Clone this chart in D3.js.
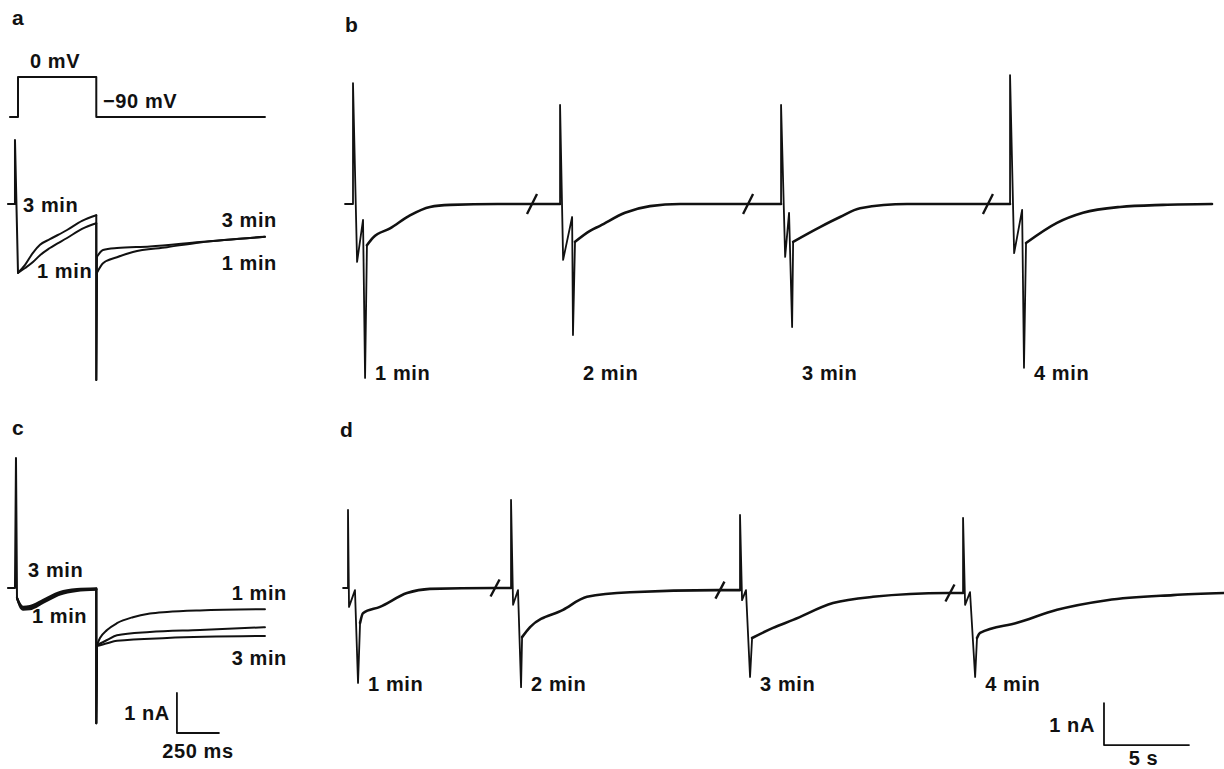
<!DOCTYPE html>
<html>
<head>
<meta charset="utf-8">
<script src="https://cdn.jsdelivr.net/npm/d3@7"></script>
<style>
  body { margin: 0; background: #fff; }
  svg { display: block; }
  text { font-family: "Liberation Sans", Arial, sans-serif; font-weight: bold; fill: #111; }
</style>
</head>
<body>
<svg id="fig" width="1224" height="769"></svg>
<script>
// ---- data ----
// panel a: command voltage (ms, mV)
const aVolt = [[-48, -90], [0, -90], [0, 0], [466, 0], [466, -90], [1470, -90]];

// panel a: currents (ms, nA)
const aCap = [[-60, 0], [-18, 0], [-18, 1.6], [0, -1.72]];
const aPulse3 = [[0, -1.72], [42, -1.52], [89, -1.22], [131, -1.02], [190, -0.88], [292, -0.65], [381, -0.42], [466, -0.28]];
const aPulse1 = [[0, -1.72], [42, -1.6], [89, -1.45], [131, -1.28], [190, -1.1], [292, -0.85], [381, -0.62], [466, -0.48]];
const aTail3 = [[470, -1.32], [506, -1.15], [589, -1.1], [785, -1.06], [1083, -0.95], [1470, -0.82]];
const aTail1 = [[470, -1.72], [506, -1.48], [589, -1.33], [684, -1.2], [887, -1.08], [1083, -0.96], [1470, -0.82]];
const aOffPeak = -4.4;

// panel c: currents (ms, nA)
const cCap = [[-60, 0], [-18, 0], [-12, 3.25], [-6, -0.25]];
const cPulse1 = [[-6, -0.25], [12, -0.46], [30, -0.54], [71, -0.53], [149, -0.37], [250, -0.16], [351, -0.07], [466, -0.04]];
const cPulse2 = [[-6, -0.25], [12, -0.43], [30, -0.5], [71, -0.49], [149, -0.33], [250, -0.13], [351, -0.05], [466, -0.03]];
const cPulse3 = [[-6, -0.25], [12, -0.4], [30, -0.47], [71, -0.45], [149, -0.3], [250, -0.1], [351, -0.03], [466, -0.01]];
const cTail1 = [[470, -1.42], [488, -1.25], [530, -1.05], [589, -0.88], [684, -0.73], [785, -0.64], [887, -0.6], [1083, -0.56], [1470, -0.53]];
const cTail2 = [[470, -1.43], [530, -1.3], [589, -1.18], [785, -1.1], [1083, -1.05], [1470, -0.98]];
const cTail3 = [[470, -1.45], [530, -1.38], [589, -1.32], [887, -1.25], [1470, -1.2]];
const cOffPeak = -3.38;

// panel b: four episodes (local s, nA), onsets on the broken time axis
const bOnsets = [0, 12.18, 25.18, 38.65];
const bBreaks = [10.53, 23.24, 37.35];
const bBreakLevel = [0, 0, 0];
const bSpikes = [
  [[-0.47, 0], [0, 0], [0, 2.88], [0.24, -1.38], [0.59, -0.38], [0.71, -4.14], [0.82, -0.98]],
  [[0, 0], [0, 2.36], [0.18, -1.33], [0.71, -0.31], [0.76, -3.12], [0.88, -0.9]],
  [[0, 0], [0, 2.36], [0.24, -1.26], [0.47, -0.21], [0.65, -2.93], [0.71, -0.9]],
  [[0, 0], [0, 3.07], [0.24, -1.17], [0.71, -0.14], [0.82, -3.9], [0.94, -0.93]]
];
const bRecovery = [
  [[0.82, -0.98], [1.18, -0.8], [2.18, -0.58], [3.35, -0.27], [4.53, -0.07], [5.71, -0.02], [8.5, 0], [12.18, 0]],
  [[0.88, -0.9], [1.76, -0.64], [2.35, -0.52], [3.82, -0.21], [5.29, -0.05], [7.06, 0], [13.0, 0]],
  [[0.71, -0.9], [2.29, -0.55], [3.47, -0.31], [4.65, -0.1], [7.41, 0], [13.47, 0]],
  [[0.94, -0.93], [2.76, -0.45], [4.29, -0.21], [6.47, -0.07], [9, -0.02], [11.88, 0]]
];
const bLabels = ["1 min", "2 min", "3 min", "4 min"];

// panel d
const dOnsets = [0, 9.59, 23.06, 36.18];
const dBreaks = [8.65, 21.88, 35.41];
const dBreakLevel = [0, -0.05, -0.12];
const dSpikes = [
  [[-0.29, 0], [0, 0], [0, 1.86], [0.06, -0.45], [0.41, -0.05], [0.59, -2.26], [0.71, -0.83]],
  [[0, 0], [0, 2.1], [0.12, -0.4], [0.41, -0.05], [0.59, -2.36], [0.65, -1.17]],
  [[0, -0.05], [0, 1.74], [0.12, -0.29], [0.35, -0.05], [0.59, -2.12], [0.71, -1.19]],
  [[0, -0.12], [0, 1.67], [0.12, -0.4], [0.41, -0.1], [0.71, -2.12], [0.82, -1.19]]
];
const dRecovery = [
  [[0.71, -0.83], [0.88, -0.6], [1.88, -0.45], [3.47, -0.12], [4.82, -0.02], [8.53, 0], [9.59, 0]],
  [[0.65, -1.17], [1.12, -0.93], [3.06, -0.52], [4.47, -0.21], [7.0, -0.1], [12.12, -0.05], [13.47, -0.05]],
  [[0.71, -1.19], [1.94, -0.95], [3.12, -0.76], [5.47, -0.36], [7.82, -0.21], [12.18, -0.12], [13.12, -0.12]],
  [[0.82, -1.19], [1.0, -1.07], [3.18, -0.83], [5.53, -0.52], [8.47, -0.29], [12.35, -0.17], [15.35, -0.12]]
];
const dLabels = ["1 min", "2 min", "3 min", "4 min"];

// scale bars
const barNA = 1, barMs = 250, barS = 5;

// ---- drawing ----
const svg = d3.select("#fig");
const ink = "#111";

// scales
const xA = d3.scaleLinear().domain([0, 250]).range([18, 60]);      // ms -> px (a, c)
const yV = d3.scaleLinear().domain([-90, 0]).range([117, 77]);     // mV
const yA = d3.scaleLinear().domain([0, 1]).range([204, 164]);      // nA, panel a
const yC = d3.scaleLinear().domain([0, 1]).range([588, 548]);      // nA, panel c
const xB = d3.scaleLinear().domain([0, 5]).range([353, 438]);      // s, panel b
const yB = d3.scaleLinear().domain([0, 1]).range([204, 162]);
const xD = d3.scaleLinear().domain([0, 5]).range([348, 433]);      // s, panel d
const yD = d3.scaleLinear().domain([0, 1]).range([588, 546]);

function trace(pts, x, y, w, curve) {
  svg.append("path").datum(pts)
    .attr("d", d3.line().x(d => x(d[0])).y(d => y(d[1])).curve(curve || d3.curveLinear))
    .attr("fill", "none")
    .attr("stroke", ink)
    .attr("stroke-width", w)
    .attr("stroke-linejoin", "round")
    .attr("stroke-linecap", "round");
}

function label(txt, x, y, size, anchor) {
  svg.append("text")
    .attr("x", x).attr("y", y)
    .attr("text-anchor", anchor || "start")
    .style("font-size", size + "px")
    .style("letter-spacing", size > 19 ? "0.6px" : "0px")
    .text(txt);
}

const smooth = d3.curveMonotoneX;

// panel letters
label("a", 12, 25, 21);
label("b", 345, 32, 21);
label("c", 12, 435, 21);
label("d", 340, 437, 21);

// ---- panel a ----
trace(aVolt, xA, yV, 2);
label("0 mV", xA(71), yV(0) - 9, 20);
label("\u221290 mV", xA(506), yV(-90) - 9, 20);

trace(aCap, xA, yA, 2);
trace(aPulse3, xA, yA, 2, smooth);
trace(aPulse1, xA, yA, 2, smooth);
[[aPulse3, aTail3], [aPulse1, aTail1]].forEach(([p, t]) => {
  const end = p[p.length - 1];
  trace([end, [end[0], aOffPeak], t[0]], xA, yA, 2);
  trace(t, xA, yA, 2, smooth);
});
label("3 min", xA(30), yA(-0.2), 20);
label("1 min", xA(113), yA(-1.85), 20);
label("3 min", xA(1541), yA(-0.575), 20, "end");
label("1 min", xA(1541), yA(-1.65), 20, "end");

// ---- panel c ----
trace(cCap, xA, yC, 2);
[[cPulse1, cTail1], [cPulse2, cTail2], [cPulse3, cTail3]].forEach(([p, t]) => {
  trace(p, xA, yC, 2.2, smooth);
  const end = p[p.length - 1];
  trace([end, [end[0], cOffPeak], t[0]], xA, yC, 2);
  trace(t, xA, yC, 2, smooth);
});
label("3 min", xA(60), yC(0.275), 20);
label("1 min", xA(83), yC(-0.875), 20);
label("1 min", xA(1601), yC(-0.3), 20, "end");
label("3 min", xA(1601), yC(-1.925), 20, "end");

// scale bar c
const cbX = 946, cbY = -3.625;
trace([[cbX, cbY + barNA], [cbX, cbY], [cbX + barMs, cbY]], xA, yC, 1.8);
label("1 nA", xA(cbX) - 7, yC(cbY + 0.325), 20, "end");
label("250 ms", xA(cbX + barMs / 2), yC(cbY) + 25, 20, "middle");

// ---- episodic panels b and d ----
function episodes(onsets, spikes, recov, breaks, breakLevel, labels, x, y, labelY, bx, by) {
  spikes.forEach((sp, i) => {
    const o = onsets[i];
    trace(sp.map(d => [d[0] + o, d[1]]), x, y, 1.8);
    trace(recov[i].map(d => [d[0] + o, d[1]]), x, y, 2.6, smooth);
    const low = d3.least(sp, d => d[1]);
    label(labels[i], x(low[0] + o) + 10, y(labelY), 20);
  });
  breaks.forEach((b, i) => {
    svg.append("line")
      .attr("x1", x(b) - bx).attr("y1", y(breakLevel[i]) + by)
      .attr("x2", x(b) + bx).attr("y2", y(breakLevel[i]) - by)
      .attr("stroke", ink).attr("stroke-width", 2.4);
  });
}

episodes(bOnsets, bSpikes, bRecovery, bBreaks, bBreakLevel, bLabels, xB, yB, -4.19, 5, 10);
episodes(dOnsets, dSpikes, dRecovery, dBreaks, dBreakLevel, dLabels, xD, yD, -2.45, 4.5, 8.5);

// scale bar d
const dbX = 44.47, dbY = -3.74;
trace([[dbX, dbY + barNA], [dbX, dbY], [dbX + barS, dbY]], xD, yD, 1.8);
label("1 nA", xD(dbX) - 9, yD(dbY + 0.3), 20, "end");
label("5 s", xD(dbX + barS / 2) - 3, yD(dbY) + 20, 20, "middle");
</script>
</body>
</html>
